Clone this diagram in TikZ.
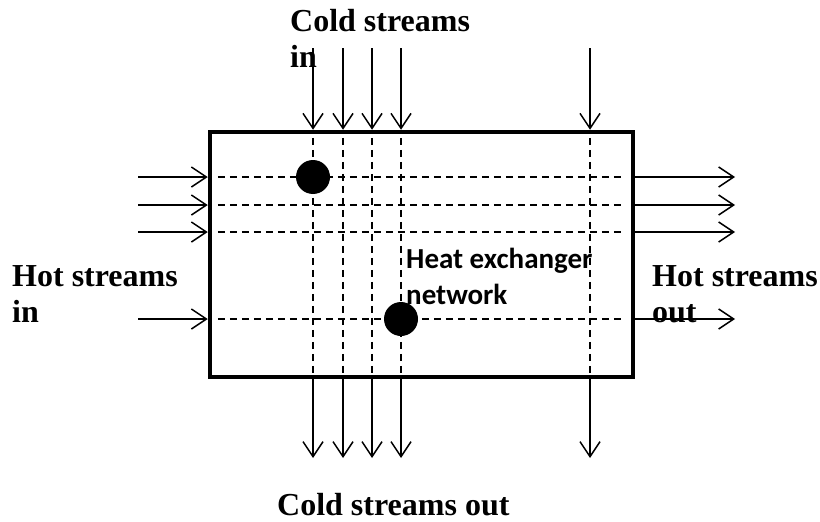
\documentclass[tikz,border=0pt]{standalone}
\usepackage{fontspec}
\setmainfont{Liberation Serif}
\newfontfamily\henfont{Carlito}
\usetikzlibrary{arrows.meta,positioning,calc}
\tikzset{
  arr/.style={-{Straight Barb[length=15pt,width=20pt]}, line width=1.5pt},
  strm/.style={line width=1.2pt, dash pattern=on 7pt off 5pt},
  hx/.style={circle, fill=black, minimum size=34pt, inner sep=0pt},
  lbl/.style={font=\fontsize{32}{36}\selectfont\bfseries, align=left, anchor=north west, inner sep=0pt},
}

\begin{document}
\begin{tikzpicture}[x=1pt,y=-1pt]
  \useasboundingbox (0,0) rectangle (820,522);
  \node[draw, line width=4.5pt, minimum width=423pt, minimum height=245pt, inner sep=0pt] (hen) at (421.5,254.5) {};
  % cold streams, top to bottom
  \foreach \i/\x in {1/313,2/343,3/372,4/401,5/590} {
    \coordinate (ci\i) at (\x,48);
    \coordinate (co\i) at (\x,458);
    \draw[arr] (ci\i) -- (ci\i |- hen.north);
    \draw[arr] (ci\i |- hen.south) -- (co\i);
    \draw[strm] ($(ci\i |- hen.north)+(0,8)$) -- ($(ci\i |- hen.south)+(0,-6)$);
  }
  % hot streams, left to right
  \foreach \i/\y in {1/177,2/205,3/232,4/319} {
    \coordinate (hi\i) at (138,\y);
    \coordinate (ho\i) at (735,\y);
    \draw[arr] (hi\i) -- (hi\i -| hen.west);
    \draw[arr] (hi\i -| hen.east) -- (ho\i);
    \draw[strm] ($(hi\i -| hen.west)+(10,0)$) -- ($(hi\i -| hen.east)+(-10,0)$);
  }
  \node[hx] (x1) at (ci1 |- hi1) {};
  \node[hx] (x2) at (ci4 |- hi4) {};
  \node[lbl] (cin) at (290,9) {Cold streams\\in};
  \node[lbl] (hin) at (12,265) {Hot streams\\in};
  \node[lbl] (hout) at (652,265) {Hot streams\\out};
  \node[lbl] (cout) at (277,493) {Cold streams out};
  \node[lbl, font=\henfont\fontsize{29}{36}\selectfont\bfseries] (net) at (406,248) {Heat exchanger\\network};
\end{tikzpicture}
\end{document}
